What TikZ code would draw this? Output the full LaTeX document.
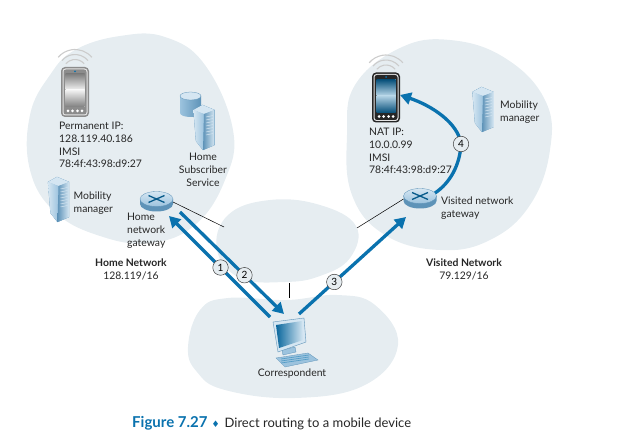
\documentclass[tikz,border=0pt]{standalone}
\usepackage{fontspec}
\setmainfont{Lato}
\newfontfamily\symfont{DejaVu Sans}
\usetikzlibrary{arrows.meta}
\definecolor{blobgray}{HTML}{E6EDF1}
\definecolor{flowblue}{HTML}{0A72AE}
\definecolor{srvlight}{HTML}{D5E6F2}
\definecolor{srvmid}{HTML}{9CC3DE}
\definecolor{srvdark}{HTML}{5E93B8}
\tikzset{
  blob/.style={fill=blobgray, draw=none},
  flow/.style={flowblue, line width=3.3pt, -{Triangle[length=11pt,width=12pt]}},
  link/.style={black, line width=0.5pt},
  stepnum/.style={circle, draw=black!75, line width=0.5pt, fill=blobgray, inner sep=0pt, minimum size=15.5pt, text=black, font=\fontsize{10}{10}\selectfont},
  lbl/.style={inner sep=0pt, align=left, anchor=north west, font=\fontsize{10.4}{12.7}\selectfont, text=black!85},
  lblc/.style={lbl, align=center, anchor=north},
  server/.pic={
    \fill[srvmid, draw=srvdark, line width=0.3pt] (-10.5,-18) -- (-1.5,-23) -- (10.5,-18) -- (10.5,17) -- (-1,22) -- (-8,13) -- cycle;
    \fill[srvlight] (-10.5,-18) -- (-1.5,-23) -- (10.5,-18) -- (0,-14) -- cycle;
    \shade[left color=srvlight, right color=srvmid] (-10.5,-18) -- (0,-14) -- (-1,22) -- (-8,13) -- cycle;
    \shade[left color=srvdark, right color=srvlight] (0,-14) -- (10.5,-18) -- (10.5,17) -- (-1,22) -- cycle;
    \foreach \y in {-11,-8,...,7} \draw[srvlight, line width=0.5pt] (2,\y) -- (9,\y-1.5);
  },
  router/.pic={
    \fill[srvdark] (-16.5,0) -- (-16.5,5) arc (180:0:16.5 and 7.5) -- (16.5,0) -- cycle;
    \shade[top color=srvlight, bottom color=srvmid, draw=srvdark, line width=0.3pt] (0,0) ellipse (16.5 and 7.5);
    \draw[flowblue!80!black, line width=1.3pt] (-8,-3.5) -- (8,3.5) (-8,3.5) -- (8,-3.5);
    \coordinate (-east) at (16.5,3);
    \coordinate (-west) at (-16.5,3);
  },
  pics/phone/.style n args={3}{code={
    \foreach \r in {12,17,22} \draw[black!20, line width=1.1pt] ([shift={(0,-20.5)}]-40:\r) arc (-40:-140:\r);
    \fill[#1, rounded corners=4pt] (-14,-25) rectangle (14,25);
    \fill[black!10, rounded corners=3pt] (-12.5,-23.5) rectangle (12.5,23.5);
    \fill[#1, rounded corners=2.5pt] (-11.5,-22.5) rectangle (11.5,22.5);
    \fill[#3] (-9.5,-18) rectangle (9.5,15);
    \shade[top color=#2, bottom color=#3] (-9.5,-18) rectangle (9.5,-2);
    \shade[top color=#3, bottom color=#2] (-9.5,-2) rectangle (9.5,15);
    \foreach \x in {-7,-2.5,2.5,7} \fill[white] (\x,19) circle (1.5);
    \fill[flowblue] (0,-20.5) circle (1);
  }},
}
\begin{document}
\begin{tikzpicture}[x=1pt, y=-1pt]
  \useasboundingbox (0,0) rectangle (638,441);
  % clouds
  \draw[blob] plot[smooth cycle, tension=0.7] coordinates {(75,50) (120,36) (165,37) (205,65) (233,130) (225,180) (195,225) (150,243) (100,236) (55,212) (30,170) (30,115) (50,75)};
  \draw[blob] plot[smooth cycle, tension=0.7] coordinates {(355,85) (400,48) (450,40) (505,58) (545,100) (550,150) (530,205) (490,240) (440,250) (385,235) (352,195) (347,135)};
  \draw[blob] plot[smooth cycle, tension=0.7] coordinates {(217,250) (228,215) (270,200) (320,205) (356,226) (350,258) (320,276) (285,282) (240,278)};
  \draw[blob] plot[smooth cycle, tension=0.7] coordinates {(188,347) (200,310) (228,298) (287,300) (337,295) (375,305) (398,345) (365,385) (295,398) (225,390) (197,372)};
  % devices
  \pic at (75,92) {phone={black!45}{black!50}{black!5}};
  \pic at (386,97.5) {phone={black!85}{flowblue!70!black}{white!70!flowblue}};
  \pic at (58.5,200) {server};
  \pic at (483,110) {server};
  \shade[left color=srvmid, right color=srvdark] (180,96) -- (180,113) arc (180:0:10.5 and 4) -- (201,96) -- cycle;
  \fill[srvlight, draw=srvdark, line width=0.3pt] (190.5,96) ellipse (10.5 and 4);
  \pic at (204,128) {server};
  \pic (homegw) at (156.5,199) {router};
  \pic (visgw) at (420,196) {router};
  % correspondent host
  \fill[srvmid, draw=srvdark, line width=0.3pt] (276,358) -- (308,353) -- (318,360) -- (285,367) -- cycle;
  \foreach \i in {0,1,2} \draw[flowblue!70, line width=0.7pt] (281,359+2*\i) -- (309,355+2*\i);
  \fill[srvmid, draw=srvdark, line width=0.3pt] (282,350) -- (295,347) -- (296,352) -- (283,355) -- cycle;
  \fill[srvlight, draw=srvdark, line width=0.4pt] (273,322) -- (304,318) -- (306,342) -- (278,352) -- cycle;
  \shade[left color=flowblue!90!black, right color=srvlight] (276,325) -- (302,321) -- (303,340) -- (279,348) -- cycle;
  \coordinate (corrin) at (284,314);
  \coordinate (corrout) at (270,317);
  \coordinate (corrvis) at (299,314);
  \coordinate (homein) at (169,216);
  \coordinate (homeout) at (180,212);
  \coordinate (visin) at (406,217);
  \coordinate (visout) at (435,193);
  \coordinate (phonein) at (400,95);
  \coordinate (midleft) at (224,227);
  \coordinate (midright) at (357,228);
  \coordinate (midbot) at (289,283);
  \coordinate (hosttop) at (289,298);
  % links
  \draw[link] (homegw-east) -- (midleft);
  \draw[link] (visgw-west) -- (midright);
  \draw[link] (midbot) -- (hosttop);
  % numbered arrows
  \draw[flow] (corrout) -- node[stepnum, pos=0.49] (one) {1} (homein);
  \draw[flow] (homeout) -- node[stepnum, pos=0.62] (two) {2} (corrin);
  \draw[flow] (corrvis) -- node[stepnum, pos=0.33] (three) {3} (visin);
  \draw[flow] (visout) .. controls (450,183) and (460,165) .. (461,144) node[stepnum] (four) {4} .. controls (458,122) and (430,105) .. (phonein);
  % labels
  \node[lbl] (homeinfo) at (59,122) {Permanent IP:\\128.119.40.186\\IMSI\\78:4f:43:98:d9:27};
  \node[lblc] (hss) at (203,153) {Home\\Subscriber\\Service};
  \node[lbl] (homemm) at (73.5,192) {Mobility\\manager};
  \node[lbl] (homegwlbl) at (127,213) {Home\\network\\gateway};
  \node[lblc] (homenet) at (131,259) {\textbf{Home Network}\\128.119/16};
  \node[lbl] (visinfo) at (369,128) {NAT IP:\\10.0.0.99\\IMSI\\78:4f:43:98:d9:27};
  \node[lbl] (vismm) at (500,101) {Mobility\\manager};
  \node[lbl] (visgwlbl) at (441,197) {Visited network\\gateway};
  \node[lblc] (visnet) at (464,259) {\textbf{Visited Network}\\79.129/16};
  \node[lblc] (corr) at (292,369) {Correspondent};
  \node[lbl, font=\fontsize{13}{15}\selectfont, anchor=west] (caption) at (132,423) {\textcolor{flowblue}{\textbf{\fontsize{15}{15}\selectfont Figure 7.27}\hspace{4pt}{\symfont\fontsize{9}{15}\selectfont ♦}}\hspace{5pt}Direct routing to a mobile device};
\end{tikzpicture}
\end{document}
